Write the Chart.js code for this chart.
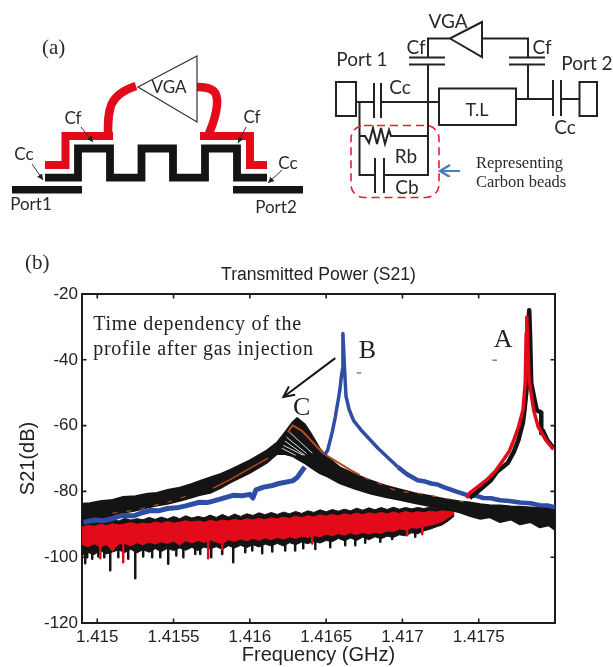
<!DOCTYPE html>
<html>
<head>
<meta charset="utf-8">
<title>Transmitted Power (S21)</title>
<script src="https://cdn.jsdelivr.net/npm/chart.js@4"></script>
<style>
html,body{margin:0;padding:0;background:#fff;overflow:hidden}
#wrap{position:relative;width:613px;height:667px}
canvas{position:absolute;left:0;top:0}
svg{position:absolute;left:0;top:0}
.cal{font-family:Lato,"Open Sans",sans-serif;fill:#2a2a2a}
.ser{font-family:"Liberation Serif",serif;fill:#2a2a2a}
</style>
</head>
<body>
<div id="wrap">
<canvas id="c" width="613" height="667"></canvas>
<svg width="613" height="667" viewBox="0 0 613 667">
  <defs>
    <marker id="ah" markerWidth="7" markerHeight="7" refX="6" refY="3" orient="auto"><path d="M0,0 L6,3 L0,6 Z" fill="#222"/></marker>
    <marker id="bh" markerWidth="8" markerHeight="8" refX="5.5" refY="3" orient="auto"><path d="M1,0 L6,3 L1,6" fill="none" stroke="#4a7ebb" stroke-width="1.2"/></marker>
  </defs>
  <text x="42" y="54" class="ser" font-size="21">(a)</text>
  <text x="25" y="269" class="ser" font-size="21">(b)</text>
  <!-- left layout -->
  <rect x="12" y="186" width="70" height="7.5" fill="#141414"/>
  <rect x="233" y="186" width="70" height="7.5" fill="#141414"/>
  <path d="M45,177.7 H78 V148.5 H110 V177.7 H141.5 V148.5 H173 V177.7 H205 V148.5 H237 V177.7 H267" fill="none" stroke="#141414" stroke-width="7.8"/>
  <path d="M45,165 H65.5 V136 H113" fill="none" stroke="#e30b1a" stroke-width="8"/>
  <path d="M200,136 H250 V165 H267" fill="none" stroke="#e30b1a" stroke-width="8"/>
  <path d="M108,134 C108,110 108,95 136,86" fill="none" stroke="#e30b1a" stroke-width="8.5"/>
  <path d="M197,87 C214,87 218,92 217,105 C216,118 212,126 208,136" fill="none" stroke="#e30b1a" stroke-width="8.5"/>
  <path d="M197,56 V122 L138,87 Z" fill="#fff" stroke="#333" stroke-width="1.2"/>
  <text x="169" y="93" text-anchor="middle" class="cal" font-size="17">VGA</text>
  <text x="73" y="124" text-anchor="middle" class="cal" font-size="17">Cf</text>
  <text x="252" y="123" text-anchor="middle" class="cal" font-size="17">Cf</text>
  <text x="24" y="160" text-anchor="middle" class="cal" font-size="17">Cc</text>
  <text x="288" y="169" text-anchor="middle" class="cal" font-size="17">Cc</text>
  <text x="31" y="210" text-anchor="middle" class="cal" font-size="17">Port1</text>
  <text x="276" y="213" text-anchor="middle" class="cal" font-size="17">Port2</text>
  <g stroke="#333" stroke-width="1" fill="none">
    <line x1="32" y1="164" x2="43" y2="180" marker-end="url(#ah)"/>
    <line x1="81" y1="127" x2="93" y2="142" marker-end="url(#ah)"/>
    <line x1="246" y1="127" x2="238" y2="143" marker-end="url(#ah)"/>
    <line x1="282" y1="170" x2="268" y2="183" marker-end="url(#ah)"/>
  </g>
  <!-- right circuit -->
  <g fill="none" stroke="#222" stroke-width="2">
    <rect x="336" y="82" width="20" height="34"/>
    <rect x="579.5" y="82" width="17.5" height="34"/>
    <rect x="439" y="88.5" width="77" height="36.5"/>
    <path d="M356,102 H374 M381,102 H439 M516,99 H553 M561,99 H579.5"/>
    <path d="M374,83 V118 M381,83 V118 M553,80 V116 M561,80 V116"/>
    <path d="M428,65 V175 H384 M375,175 H359.5 V102"/>
    <path d="M375,158 V193 M384,158 V193"/>
    <path d="M409,57.5 H445 M409,64.5 H445 M509,57.5 H545 M509,64.5 H545"/>
    <path d="M428,57.5 V38.5 H450 L482,22 V57 L450,38.5 M482,38.5 H528 V57.5 M528,64.5 V99"/>
    <path d="M359.5,136 H365 L369,143 L373,128 L377,144 L381,128 L385,144 L389,130 L391,136 H428"/>
  </g>
  <rect x="351" y="125.5" width="88" height="72" rx="13" fill="none" stroke="#e02030" stroke-width="1.6" stroke-dasharray="8 5"/>
  <line x1="460" y1="171" x2="441" y2="171" stroke="#4a7ebb" stroke-width="2" marker-end="url(#bh)"/>
  <text x="448" y="28" text-anchor="middle" class="cal" font-size="19">VGA</text>
  <text x="416" y="54" text-anchor="middle" class="cal" font-size="19">Cf</text>
  <text x="542" y="54" text-anchor="middle" class="cal" font-size="19">Cf</text>
  <text x="362" y="66" text-anchor="middle" class="cal" font-size="19">Port 1</text>
  <text x="587" y="70" text-anchor="middle" class="cal" font-size="19">Port 2</text>
  <text x="400" y="94" text-anchor="middle" class="cal" font-size="19">Cc</text>
  <text x="565" y="134" text-anchor="middle" class="cal" font-size="19">Cc</text>
  <text x="477" y="116" text-anchor="middle" class="cal" font-size="18">T.L</text>
  <text x="406" y="163" text-anchor="middle" class="cal" font-size="19">Rb</text>
  <text x="407" y="194" text-anchor="middle" class="cal" font-size="19">Cb</text>
  <text x="476" y="168" class="ser" font-size="16.5">Representing</text>
  <text x="476" y="187" class="ser" font-size="16.5">Carbon beads</text>
</svg>
</div>
<script>
// ---- axis values ----
const xTickValues = [1.415, 1.4155, 1.416, 1.4165, 1.417, 1.4175];
const yTickValues = [-20, -40, -60, -80, -100, -120];
const chartTitle = "Transmitted Power (S21)";
const xAxisTitle = "Frequency (GHz)";
const yAxisTitle = "S21(dB)";

// ---- noise floor of trace A (before resonance) ----
const noiseFreq = [1.41490,1.41494,1.41498,1.41502,1.41506,1.41510,1.41514,1.41518,1.41522,1.41526,1.41530,1.41534,1.41538,1.41542,1.41546,1.41550,1.41554,1.41558,1.41562,1.41566,1.41570,1.41574,1.41578,1.41582,1.41586,1.41590,1.41594,1.41598,1.41602,1.41606,1.41610,1.41614,1.41618,1.41622,1.41626,1.41630,1.41634,1.41638,1.41642,1.41646,1.41650,1.41654,1.41658,1.41662,1.41666,1.41670,1.41674,1.41678,1.41682,1.41686,1.41690,1.41694,1.41698,1.41702,1.41706,1.41710,1.41714,1.41718,1.41722,1.41726,1.41730,1.41734];
const redTop = [-90.8,-90.3,-90.6,-90.0,-90.4,-89.8,-90.2,-89.9,-89.5,-90.0,-89.6,-89.9,-89.3,-89.7,-89.2,-89.6,-89.4,-88.9,-89.3,-89.0,-89.4,-88.8,-89.2,-88.7,-89.0,-88.5,-88.9,-88.3,-88.7,-88.2,-88.6,-88.0,-88.4,-87.8,-88.2,-87.5,-88.0,-87.4,-87.8,-87.1,-87.5,-87.0,-87.4,-86.8,-87.2,-86.6,-87.1,-86.5,-86.9,-86.4,-86.8,-86.3,-86.7,-86.1,-86.6,-86.2,-86.5,-86.0,-86.3,-85.9,-86.1,-86.0];
const redBottom = [-96.2,-96.8,-95.9,-97.0,-96.1,-98.2,-96.0,-95.8,-96.5,-95.6,-96.2,-95.4,-96.0,-95.3,-95.8,-95.1,-96.3,-95.0,-95.6,-94.9,-95.5,-94.8,-95.4,-95.9,-94.7,-95.2,-94.5,-95.0,-94.3,-94.9,-94.1,-94.7,-94.0,-94.5,-93.8,-94.3,-93.6,-94.0,-93.4,-93.8,-93.0,-93.5,-92.8,-93.3,-92.6,-93.1,-92.5,-93.0,-92.4,-92.8,-92.0,-92.2,-91.4,-91.7,-91.0,-91.2,-90.6,-90.4,-89.8,-89.2,-88.0,-86.8];
const blackTop = [-89.6,-88.9,-89.5,-88.6,-89.2,-88.4,-89.0,-88.2,-88.7,-88.3,-88.6,-87.9,-88.5,-87.8,-88.4,-87.6,-88.3,-87.4,-88.1,-87.6,-88.0,-87.2,-87.9,-87.0,-87.8,-86.9,-87.6,-86.8,-87.3,-86.5,-87.1,-86.4,-87.0,-86.3,-86.8,-86.1,-86.7,-85.9,-86.4,-85.6,-86.2,-85.5,-86.0,-85.4,-85.9,-85.1,-85.7,-85.0,-85.6,-84.9,-85.5,-84.8,-85.4,-84.9,-85.3,-84.9,-85.2,-84.8,-85.1,-85.0,-85.0,-85.2];
const blackBottom = [-99.5,-98.6,-99.2,-98.0,-99.0,-98.4,-97.8,-98.6,-97.6,-98.7,-97.7,-98.5,-97.4,-98.3,-97.3,-98.0,-97.2,-97.9,-97.0,-98.0,-96.9,-97.5,-96.8,-97.6,-96.5,-97.2,-96.4,-97.1,-96.2,-96.9,-96.0,-96.6,-95.8,-96.6,-95.6,-96.2,-95.4,-95.9,-95.2,-95.7,-94.9,-95.3,-94.3,-95.0,-94.2,-94.9,-93.9,-94.7,-93.8,-94.4,-93.6,-94.0,-93.2,-93.5,-92.6,-92.9,-92.0,-91.5,-90.8,-90.2,-89.0,-87.5];
const blackSpikeFreq = [1.414921,1.414967,1.415085,1.415249,1.415360,1.415465,1.415564,1.415642,1.415747,1.415891,1.415970,1.416081,1.416350,1.414934,1.415007,1.415046,1.415138,1.415203,1.415301,1.415413,1.415518,1.415675,1.415819,1.416016,1.416147,1.416232,1.416297,1.416429,1.416527,1.416625,1.416691,1.416756,1.416855,1.416933,1.417084];
const blackSpikeTip = [-101.8,-100.5,-104,-106.4,-100,-102,-100,-99,-100,-101.5,-98.5,-98.8,-97.3,-100,-99.8,-100,-100,-100.5,-99.8,-100,-99.5,-99,-99,-98,-98.3,-98,-98,-97.5,-97,-96.4,-96.4,-95.6,-95.3,-94.5,-93.8];
const redSpikeFreq = [1.415020,1.415170,1.415727,1.415819,1.416409,1.417031,1.417130];
const redSpikeTip = [-100.3,-101.5,-100.3,-97.5,-95.8,-93.3,-93];

// ---- trace C: family of time-dependent profiles ----
const cFreq = [1.41490,1.41495,1.41502,1.41510,1.41517,1.41525,1.41533,1.41539,1.41546,1.41554,1.41561,1.41567,1.41574,1.41581,1.41587,1.41600,1.41611,1.41618,1.41623,1.41628,1.41631,1.41636,1.41640,1.41646,1.41651,1.41659,1.41669,1.41679,1.41689,1.41699,1.41708,1.41718,1.41728,1.41738,1.41744,1.41751,1.41757,1.41764,1.41771,1.41777,1.41784,1.41790,1.41796,1.41800];
const cTop = [-83.7,-83.5,-82.9,-82.5,-81.6,-81.4,-80.6,-80.4,-79.5,-78.8,-77.8,-76.8,-75.7,-74.6,-73.4,-70.5,-67.5,-65.0,-62.0,-58.9,-57.6,-59.5,-62.3,-67.0,-69.6,-72.6,-74.8,-76.6,-78.2,-79.4,-80.5,-81.3,-82.3,-83.0,-83.3,-83.8,-84.1,-84.2,-84.5,-84.6,-84.8,-85.0,-84.9,-85.2];
const cBottom = [-89.8,-89.0,-88.3,-87.4,-86.6,-85.9,-85.0,-84.4,-83.8,-82.9,-82.0,-81.2,-80.5,-79.0,-77.4,-74.4,-71.4,-68.6,-68.7,-69.3,-70.2,-71.5,-72.8,-74.6,-75.6,-77.6,-79.3,-80.7,-81.8,-82.7,-83.6,-84.5,-85.3,-86.5,-87.5,-88.4,-87.9,-89.4,-88.6,-90.1,-89.4,-91.0,-90.4,-91.8];
const fanStartFreq = [1.41626,1.41624,1.41623,1.41622,1.41621];
const fanStartDb = [-62,-63.5,-64.7,-66,-66.9];
const fanEndFreq = [1.41641,1.41637,1.41636,1.41635,1.41630];
const fanEndDb = [-68.4,-68.4,-69,-69,-69];
const brownRiseFreq = [1.41576,1.41587,1.41600,1.41612];
const brownRiseDb = [-79,-76.4,-73,-69.9];
const brownPeakFreq = [1.41625,1.41628,1.41634,1.41648,1.41666,1.41672];
const brownPeakDb = [-62,-59.9,-61.5,-68.4,-73.5,-75];
const brownLeftFreq = [1.41510,1.41525,1.41546,1.41558];
const brownLeftDb = [-86.6,-85.7,-83.3,-81.5];
const brownRightFreq = [1.41675,1.41697,1.41708,1.41718,1.41740];
const brownRightDb = [-75.8,-80,-80.5,-81.2,-83.2];

// ---- trace B (blue) ----
const blueRiseFreq = [1.41491,1.41495,1.41499,1.41504,1.41509,1.41516,1.41524,1.41530,1.41535,1.41540,1.41546,1.41552,1.41558,1.41567,1.41572,1.41577,1.41589,1.41595,1.41600,1.41602,1.41604,1.41609,1.41614,1.41619,1.41628,1.41631,1.41633,1.41636];
const blueRiseDb = [-89.4,-89.0,-88.7,-88.9,-88.4,-87.3,-87.4,-86.4,-85.8,-85.9,-85.2,-85.0,-84.4,-83.3,-83.4,-82.8,-81.2,-81.3,-80.9,-82,-79.5,-78.7,-78.3,-77.6,-76.8,-75.8,-74.5,-72.6];
const bluePeakFreq = [1.41649,1.41651,1.41654,1.41656,1.41658,1.41659,1.41660,1.41661,1.41661,1.41662,1.41663,1.41665,1.41668,1.41673,1.41684,1.41697];
const bluePeakDb = [-69,-67.5,-62,-57.4,-52,-49.2,-45,-42,-32,-42,-51,-55,-58.5,-61.4,-66.9,-72.6];
const blueTailFreq = [1.41697,1.41703,1.41710,1.41715,1.41719,1.41723,1.41727,1.41735,1.41743,1.41748,1.41753,1.41758,1.41764,1.41770,1.41777,1.41784,1.41790,1.41795,1.41800];
const blueTailDb = [-72.6,-74.8,-76.6,-77.0,-77.6,-77.9,-78.7,-80,-81.2,-81.3,-82,-82.1,-82.7,-82.9,-83.4,-83.6,-84.2,-84.3,-84.8];

// ---- trace A (resonance peak) ----
const peakBlackFreq = [1.41744,1.41749,1.41758,1.41762,1.41769,1.41773,1.41776,1.41779,1.417800,1.417818,1.417824,1.417831,1.417837,1.417844,1.41788,1.41791,1.41791,1.41792,1.41795,1.41799];
const peakBlackDb = [-82,-80.2,-76.6,-74,-71.4,-68,-64.4,-59,-55.3,-47,-31.9,-24.9,-33,-47,-55.3,-56,-62.3,-61.5,-64.5,-66.8];
const peakRedFreq = [1.41742,1.41744,1.41755,1.41761,1.41766,1.41770,1.41773,1.41776,1.41779,1.417805,1.417811,1.417815,1.41782,1.41783,1.41786,1.41789,1.41794,1.41799];
const peakRedDb = [-82,-80.5,-76.6,-73.8,-70.5,-67.8,-64.4,-60.5,-55.3,-47,-31.9,-27,-33,-46,-55.3,-60.4,-64.4,-67.2];

// ---- labels on the plot ----
const noteTexts = ["Time dependency of the", "profile after gas injection"];
const noteFreq = [1.414974, 1.414974];
const noteDb = [-30.95, -38.6];
const peakNames = ["A", "B", "C"];
const peakNameFreq = [1.41766, 1.41677, 1.41634];
const peakNameDb = [-36.1, -39.5, -56.8];
const arrowFreq = [1.41656, 1.41622];
const arrowDb = [-39.5, -51.3];
const dashStartFreq = [1.41759, 1.41670];
const dashEndFreq = [1.41762, 1.41673];
const dashDb = [-40.1, -44];

// ---- colours ----
const BLACK = "#141414", RED = "#e30b1a", BLUE = "#2e4ea5", BROWN = "#b4481e";

const zip = (xs, ys) => xs.map((x, i) => ({x, y: ys[i]}));
const breaks = (x1, y1, x2, y2) => x1.flatMap((x, i) => [{x, y: y1[i]}, {x: x2[i], y: y2[i]}, {x: x2[i], y: NaN}]);
// every spike starts inside the red band at its own frequency
const rootAt = f => {
  let best = 0;
  noiseFreq.forEach((n, i) => { if (Math.abs(n - f) < Math.abs(noiseFreq[best] - f)) best = i; });
  return redBottom[best] + 1;
};
const spikes = (xs, tips) => breaks(xs, xs.map(rootAt), xs, tips);

const line = (data, color, width, extra) => Object.assign({
  data, borderColor: color, backgroundColor: color, borderWidth: width,
  showLine: true, pointRadius: 0, fill: false, tension: 0,
  borderJoinStyle: "round", spanGaps: false
}, extra || {});

const datasets = [
  line(zip(noiseFreq, blackTop), BLACK, 1, {fill: "+1"}),
  line(zip(noiseFreq, blackBottom), BLACK, 1),
  line(spikes(blackSpikeFreq, blackSpikeTip), BLACK, 2.5),
  line(zip(noiseFreq, redTop), RED, 1, {fill: "+1"}),
  line(zip(noiseFreq, redBottom), RED, 1),
  line(spikes(redSpikeFreq, redSpikeTip), RED, 2.5),
  line(zip(cFreq, cTop), BLACK, 1.5, {fill: "+1"}),
  line(zip(cFreq, cBottom), BLACK, 1.5),
  line(breaks(fanStartFreq, fanStartDb, fanEndFreq, fanEndDb), "rgba(255,255,255,0.85)", 1),
  line(zip(brownRiseFreq, brownRiseDb), BROWN, 1.5),
  line(zip(brownPeakFreq, brownPeakDb), BROWN, 2),
  line(zip(brownLeftFreq, brownLeftDb), BROWN, 1.2, {borderDash: [5, 9]}),
  line(zip(brownRightFreq, brownRightDb), BROWN, 1.2, {borderDash: [5, 9]}),
  line(zip(blueRiseFreq, blueRiseDb), BLUE, 5),
  line(zip(bluePeakFreq, bluePeakDb), BLUE, 3.5),
  line(zip(blueTailFreq, blueTailDb), BLUE, 4.5),
  line(zip(peakBlackFreq, peakBlackDb), BLACK, 4.5),
  line(zip(peakRedFreq, peakRedDb), RED, 3.5),
  line(zip(arrowFreq, arrowDb), BLACK, 2),
  line(breaks(dashStartFreq, dashDb, dashEndFreq, dashDb), "#444", 1)
];
datasets.forEach((d, i) => { d.order = datasets.length - i; });

const AXIS = "#1c1c1c";
const TICK_LEN = 4.5;

const annotate = {
  id: "annotate",
  afterDatasetsDraw(chart) {
    const {ctx, chartArea: area, scales: {x, y}} = chart;
    ctx.save();
    // inward tick marks on all four sides, at the axis tick values
    ctx.strokeStyle = AXIS; ctx.lineWidth = 1.6;
    ctx.beginPath();
    xTickValues.forEach(v => {
      const p = x.getPixelForValue(v);
      ctx.moveTo(p, area.top); ctx.lineTo(p, area.top + TICK_LEN);
      ctx.moveTo(p, area.bottom); ctx.lineTo(p, area.bottom - TICK_LEN);
    });
    yTickValues.forEach(v => {
      const p = y.getPixelForValue(v);
      ctx.moveTo(area.left, p); ctx.lineTo(area.left + TICK_LEN, p);
      ctx.moveTo(area.right, p); ctx.lineTo(area.right - TICK_LEN, p);
    });
    ctx.stroke();

    ctx.fillStyle = "#222";
    ctx.textBaseline = "alphabetic";
    ctx.textAlign = "left";
    ctx.font = '20px "Liberation Serif", serif';
    ctx.letterSpacing = "0.7px";
    noteTexts.forEach((t, i) => ctx.fillText(t, x.getPixelForValue(noteFreq[i]), y.getPixelForValue(noteDb[i])));
    ctx.letterSpacing = "0px";
    ctx.textAlign = "center";
    ctx.font = '26px "Liberation Serif", serif';
    peakNames.forEach((t, i) => ctx.fillText(t, x.getPixelForValue(peakNameFreq[i]), y.getPixelForValue(peakNameDb[i])));
    // arrow head at the end of the arrow series
    const hx = x.getPixelForValue(arrowFreq[1]), hy = y.getPixelForValue(arrowDb[1]);
    const a = Math.atan2(y.getPixelForValue(arrowDb[0]) - hy, x.getPixelForValue(arrowFreq[0]) - hx);
    ctx.strokeStyle = BLACK; ctx.lineWidth = 2;
    ctx.beginPath();
    ctx.moveTo(hx + 12 * Math.cos(a - 0.45), hy + 12 * Math.sin(a - 0.45));
    ctx.lineTo(hx, hy);
    ctx.lineTo(hx + 12 * Math.cos(a + 0.45), hy + 12 * Math.sin(a + 0.45));
    ctx.stroke();
    ctx.restore();
  }
};

const tickFont = {family: '"Liberation Sans", Arial, sans-serif', size: 17};
const plainGrid = {drawOnChartArea: false, drawTicks: false};
const border = {display: true, color: AXIS, width: 2};

new Chart(document.getElementById("c"), {
  type: "scatter",
  data: {datasets},
  plugins: [annotate],
  options: {
    responsive: false,
    animation: false,
    events: [],
    layout: {padding: {left: 0, right: 58, top: 264.5, bottom: 0}},
    plugins: {
      legend: {display: false},
      tooltip: {enabled: false},
      title: {
        display: true, text: chartTitle, color: "#222", fullSize: false,
        font: {family: tickFont.family, size: 17.6, weight: "normal", lineHeight: 1.2},
        padding: {top: 0, bottom: 8.4}
      }
    },
    scales: {
      x: {
        type: "linear", position: "bottom", min: 1.4149, max: 1.418,
        grid: plainGrid, border,
        afterBuildTicks: s => { s.ticks = xTickValues.map(value => ({value})); },
        ticks: {font: tickFont, color: "#222", padding: 4, maxRotation: 0, autoSkip: false, callback: v => String(+v.toFixed(4))},
        title: {display: true, text: xAxisTitle, color: "#222", font: {family: tickFont.family, size: 20}, padding: {top: 0, bottom: 0}},
        afterFit: s => { s.height = 44; }
      },
      y: {
        type: "linear", position: "left", min: -120, max: -20,
        grid: plainGrid, border,
        afterBuildTicks: s => { s.ticks = yTickValues.map(value => ({value})); },
        ticks: {font: tickFont, color: "#222", padding: 4, autoSkip: false, callback: v => String(v)},
        title: {display: true, text: yAxisTitle, color: "#222", font: {family: tickFont.family, size: 20}, padding: {top: 16, bottom: 0}},
        afterFit: s => { s.width = 82; }
      },
      xTop: {
        type: "linear", position: "top", min: 1.4149, max: 1.418,
        grid: plainGrid, border,
        ticks: {display: false},
        afterFit: s => { s.height = 0; }
      },
      yRight: {
        type: "linear", position: "right", min: -120, max: -20,
        grid: plainGrid, border,
        ticks: {display: false},
        afterFit: s => { s.width = 0; }
      }
    }
  }
});
</script>
</body>
</html>
